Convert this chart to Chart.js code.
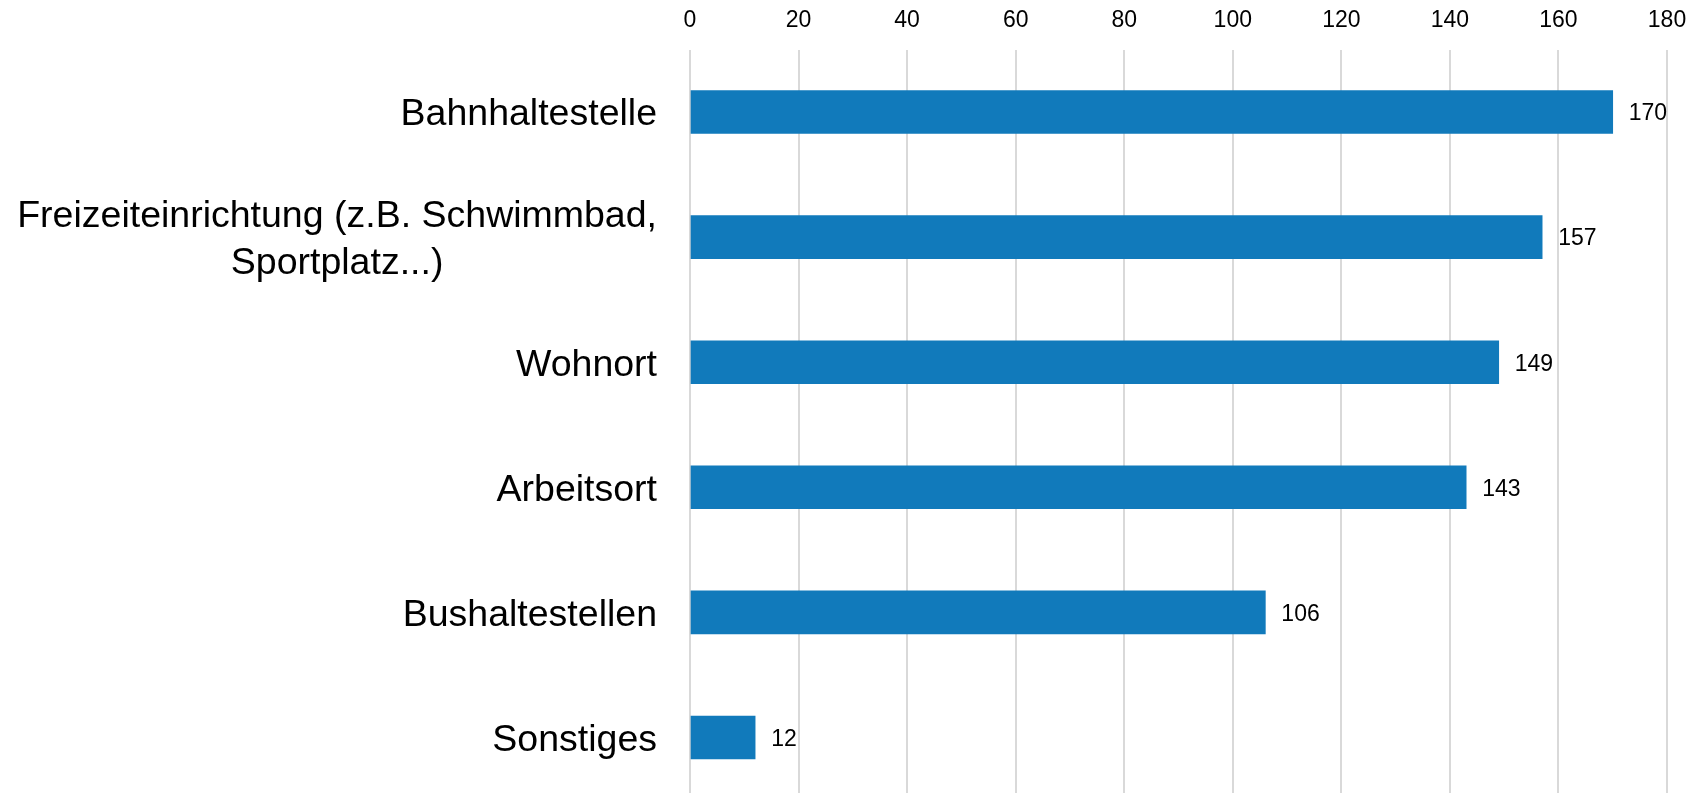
<!DOCTYPE html>
<html>
<head>
<meta charset="utf-8">
<script src="https://cdn.jsdelivr.net/npm/chart.js@4/dist/chart.umd.min.js"></script>
<style>
  html, body { margin: 0; padding: 0; background: #fff; overflow: hidden; }
  #wrap { width: 1703px; height: 800px; }
</style>
</head>
<body>
<div id="wrap"><canvas id="chart"></canvas></div>
<script>
const categories = [
  'Bahnhaltestelle',
  ['Freizeiteinrichtung (z.B. Schwimmbad,', 'Sportplatz...)'],
  'Wohnort',
  'Arbeitsort',
  'Bushaltestellen',
  'Sonstiges'
]
const values = [170, 157, 149, 143, 106, 12]
const xTicks = [0, 20, 40, 60, 80, 100, 120, 140, 160, 180]

const FONT = "'Liberation Sans', Arial, sans-serif"

// category labels: block right-aligned, lines centred inside the block
const categoryLabels = {
  id: 'categoryLabels',
  afterDraw(chart) {
    const ctx = chart.ctx
    const y = chart.scales.y
    ctx.save()
    ctx.font = '37.5px ' + FONT
    ctx.fillStyle = '#000'
    ctx.textAlign = 'center'
    ctx.textBaseline = 'middle'
    const right = 657
    const lineH = 47
    categories.forEach((cat, i) => {
      const lines = Array.isArray(cat) ? cat : [cat]
      const maxW = Math.max(...lines.map(l => ctx.measureText(l).width))
      const cx = right - maxW / 2
      const cy = y.getPixelForValue(i) + 3
      const start = cy - (lines.length - 1) * lineH / 2
      lines.forEach((l, j) => ctx.fillText(l, cx, start + j * lineH))
    })
    ctx.restore()
  }
}

// value labels right of each bar
const valueLabels = {
  id: 'valueLabels',
  afterDatasetsDraw(chart) {
    const ctx = chart.ctx
    const meta = chart.getDatasetMeta(0)
    ctx.save()
    ctx.font = '23px ' + FONT
    ctx.fillStyle = '#000'
    ctx.textAlign = 'left'
    ctx.textBaseline = 'middle'
    meta.data.forEach((bar, i) => {
      ctx.fillText(String(values[i]), bar.x + 16, bar.y + 2)
    })
    ctx.restore()
  }
}

new Chart(document.getElementById('chart'), {
  type: 'bar',
  data: {
    labels: categories,
    datasets: [{
      data: values,
      backgroundColor: '#117abb',
      borderWidth: 0,
      barThickness: 43
    }]
  },
  options: {
    indexAxis: 'y',
    responsive: true,
    maintainAspectRatio: false,
    animation: false,
    layout: { padding: { left: 0, right: 36, top: 0, bottom: 0 } },
    plugins: {
      legend: { display: false },
      tooltip: { enabled: false }
    },
    scales: {
      x: {
        position: 'top',
        min: 0,
        max: 180,
        afterBuildTicks: (axis) => { axis.ticks = xTicks.map(v => ({ value: v })) },
        afterFit: (axis) => { axis.height = 49.5 },
        grid: { color: '#d9d9d9', lineWidth: 2, drawTicks: false },
        border: { display: false },
        ticks: {
          color: '#000',
          padding: 15,
          font: { family: FONT, size: 23 }
        }
      },
      y: {
        afterFit: (axis) => { axis.width = 690 },
        grid: { display: false },
        border: { display: false },
        ticks: { display: false }
      }
    }
  },
  plugins: [categoryLabels, valueLabels]
})
</script>
</body>
</html>
